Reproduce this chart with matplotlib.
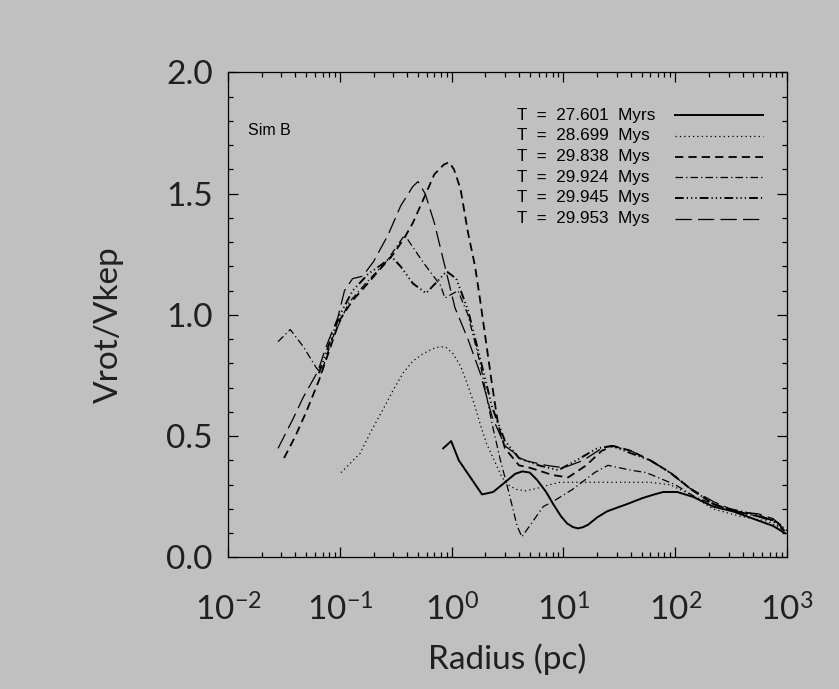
import numpy as np
import matplotlib
matplotlib.use("Agg")
import matplotlib.pyplot as plt
from matplotlib.lines import Line2D
from matplotlib.ticker import LogLocator, MultipleLocator, NullFormatter

# --- data (radius in pc, Vrot/Vkep) ---
r_27601 = [0.84, 0.99, 1.16, 1.87, 2.35, 3.0, 3.7, 4.3, 5.0, 5.8, 7.0, 8.1, 9.5,
           10.8, 12.2, 13.5, 15, 16.6, 20, 24.5, 30, 37, 51, 65, 78, 104, 144,
           218, 329, 497, 750, 960]
v_27601 = [0.45, 0.48, 0.40, 0.26, 0.27, 0.31, 0.345, 0.355, 0.35, 0.32, 0.27,
           0.22, 0.17, 0.14, 0.125, 0.12, 0.125, 0.135, 0.165, 0.19, 0.205,
           0.22, 0.245, 0.26, 0.27, 0.27, 0.25, 0.21, 0.19, 0.16, 0.13, 0.10]

r_28699 = [0.1025, 0.125, 0.152, 0.19, 0.243, 0.3, 0.367, 0.45, 0.555, 0.67,
           0.787, 0.9, 1.03, 1.2, 1.37, 1.6, 1.8, 2.05, 2.35, 2.82, 3.3, 3.85,
           4.6, 5.8, 7.5, 9.3, 12, 15, 20, 30, 45, 59.5, 90, 136, 218, 380,
           662, 960]
v_28699 = [0.35, 0.39, 0.43, 0.52, 0.61, 0.69, 0.76, 0.81, 0.84, 0.86, 0.87,
           0.865, 0.84, 0.79, 0.72, 0.63, 0.55, 0.47, 0.41, 0.33, 0.295, 0.28,
           0.275, 0.285, 0.30, 0.31, 0.31, 0.31, 0.31, 0.31, 0.31, 0.31, 0.30,
           0.26, 0.20, 0.17, 0.15, 0.11]

r_29838 = [0.0317, 0.04, 0.05, 0.065, 0.08, 0.1, 0.13, 0.17, 0.22, 0.3, 0.38,
           0.45, 0.55, 0.7, 0.85, 0.95, 1.05, 1.2, 1.4, 1.62, 1.8, 2.0, 2.27,
           2.6, 3.0, 4.0, 5.0, 8.0, 11, 16, 22, 28, 40, 60, 90, 140, 220, 350,
           550, 800, 950]
v_29838 = [0.41, 0.50, 0.60, 0.73, 0.85, 0.98, 1.06, 1.12, 1.18, 1.25, 1.32,
           1.38, 1.47, 1.58, 1.62, 1.63, 1.60, 1.52, 1.34, 1.20, 1.06, 0.91,
           0.73, 0.55, 0.45, 0.38, 0.37, 0.34, 0.33, 0.38, 0.44, 0.46, 0.44,
           0.40, 0.35, 0.28, 0.22, 0.19, 0.17, 0.15, 0.11]

r_29924 = [0.028, 0.036, 0.047, 0.062, 0.068, 0.085, 0.12, 0.17, 0.26, 0.38,
           0.55, 0.8, 0.87, 1.14, 1.4, 1.8, 2.3, 2.7, 3.2, 3.85, 4.25, 6.6, 8,
           12, 19, 25, 40, 55, 100, 150, 250, 400, 600, 850, 1000]
v_29924 = [0.89, 0.94, 0.87, 0.78, 0.76, 0.90, 1.05, 1.13, 1.22, 1.33, 1.22,
           1.12, 1.07, 1.10, 1.00, 0.80, 0.55, 0.41, 0.28, 0.13, 0.085, 0.21,
           0.23, 0.28, 0.35, 0.38, 0.36, 0.35, 0.30, 0.25, 0.21, 0.19, 0.17,
           0.14, 0.11]

r_29945 = [0.065, 0.08, 0.1, 0.13, 0.18, 0.24, 0.29, 0.35, 0.45, 0.59, 0.75,
           0.9, 1.1, 1.4, 1.8, 2.3, 3.0, 4, 6, 9, 13, 20, 27, 40, 60, 90, 140,
           220, 350, 550, 750, 950]
v_29945 = [0.76, 0.88, 1.00, 1.10, 1.17, 1.21, 1.24, 1.20, 1.13, 1.09, 1.14,
           1.18, 1.15, 1.02, 0.82, 0.62, 0.48, 0.41, 0.38, 0.36, 0.40, 0.45,
           0.46, 0.43, 0.40, 0.35, 0.28, 0.22, 0.19, 0.17, 0.15, 0.11]

r_29953 = [0.028, 0.038, 0.047, 0.064, 0.074, 0.096, 0.11, 0.13, 0.16, 0.2,
           0.27, 0.35, 0.45, 0.5, 0.58, 0.7, 0.85, 1.07, 1.4, 1.8, 2.3, 3.0,
           4.5, 7, 10, 15, 22, 27, 40, 60, 90, 130, 220, 350, 550, 750, 950]
v_29953 = [0.45, 0.57, 0.66, 0.77, 0.86, 0.99, 1.10, 1.15, 1.16, 1.22, 1.33,
           1.45, 1.53, 1.55, 1.50, 1.38, 1.22, 1.03, 0.90, 0.76, 0.58, 0.46,
           0.40, 0.38, 0.37, 0.40, 0.45, 0.46, 0.44, 0.40, 0.35, 0.29, 0.23,
           0.19, 0.18, 0.16, 0.12]

labels = ['T  =  27.601  Myrs', 'T  =  28.699  Mys', 'T  =  29.838  Mys',
          'T  =  29.924  Mys', 'T  =  29.945  Mys', 'T  =  29.953  Mys']

# line styles, one per time step (IDL linestyles 0..5)
styles = [
    dict(lw=1.4, ls='-'),
    dict(lw=0.9, ls=(0, (1.0, 2.5))),
    dict(lw=1.3, ls=(0, (4.6, 2.8))),
    dict(lw=0.9, ls=(0, (6, 2.5, 1, 2.5))),
    dict(lw=1.4, ls=(0, (4.5, 1.6, 0.6, 1.6, 0.6, 1.6, 0.6, 1.6))),
    dict(lw=0.9, ls=(0, (13, 5))),
]
curves = [(r_27601, v_27601), (r_28699, v_28699), (r_29838, v_29838),
          (r_29924, v_29924), (r_29945, v_29945), (r_29953, v_29953)]

BG = '#c0c0c0'
plt.rcParams['font.family'] = ['Lato', 'DejaVu Sans']

fig = plt.figure(figsize=(8.39, 6.89), dpi=100, facecolor=BG)
ax = fig.add_axes([0.2718, 0.1909, 0.6663, 0.7039], facecolor=BG)

for (r, v), st in zip(curves, styles):
    ax.plot(r, v, color='black', **st)

ax.set_xscale('log')
ax.set_xlim(1e-2, 1e3)
ax.set_ylim(0, 2.0)
ax.xaxis.set_major_locator(LogLocator(base=10, numticks=10))
ax.xaxis.set_minor_locator(LogLocator(base=10, subs=np.arange(2, 10), numticks=20))
ax.xaxis.set_minor_formatter(NullFormatter())
ax.yaxis.set_major_locator(MultipleLocator(0.5))
ax.yaxis.set_minor_locator(MultipleLocator(0.1))
ax.yaxis.set_major_formatter(plt.FuncFormatter(lambda v, p: f'{v:.1f}'))

for s in ax.spines.values():
    s.set_linewidth(0.9)
ax.tick_params(which='both', direction='in', top=True, right=True, width=0.9)
ax.tick_params(which='major', length=7.5, labelsize=24, labelcolor='#202020')
ax.tick_params(which='minor', length=3.8)
ax.tick_params(axis='x', which='major', pad=26)
ax.tick_params(axis='y', which='major', pad=11)

ax.set_xlabel('Radius (pc)', fontsize=24, color='#202020')
ax.set_ylabel('Vrot/Vkep', fontsize=24, color='#202020')
ax.xaxis.set_label_coords(0.5, -0.178)
ax.yaxis.set_label_coords(-0.186, 0.48)

ax.text(0.036, 0.881, 'Sim B', transform=ax.transAxes, fontsize=11.5,
        family='Liberation Sans', va='center', ha='left')

# legend drawn IDL-style: text left aligned, line sample on the right
row0, drow = 0.912, 0.0427
for i, (lab, st) in enumerate(zip(labels, styles)):
    yy = row0 - i * drow
    ax.text(0.517, yy, lab, transform=ax.transAxes, fontsize=12.3,
            family='Liberation Sans', va='center', ha='left')
    ax.add_line(Line2D([0.800, 0.957], [yy, yy], transform=ax.transAxes,
                       color='black', **st))

fig.savefig('out.png', dpi=100, facecolor=BG)
